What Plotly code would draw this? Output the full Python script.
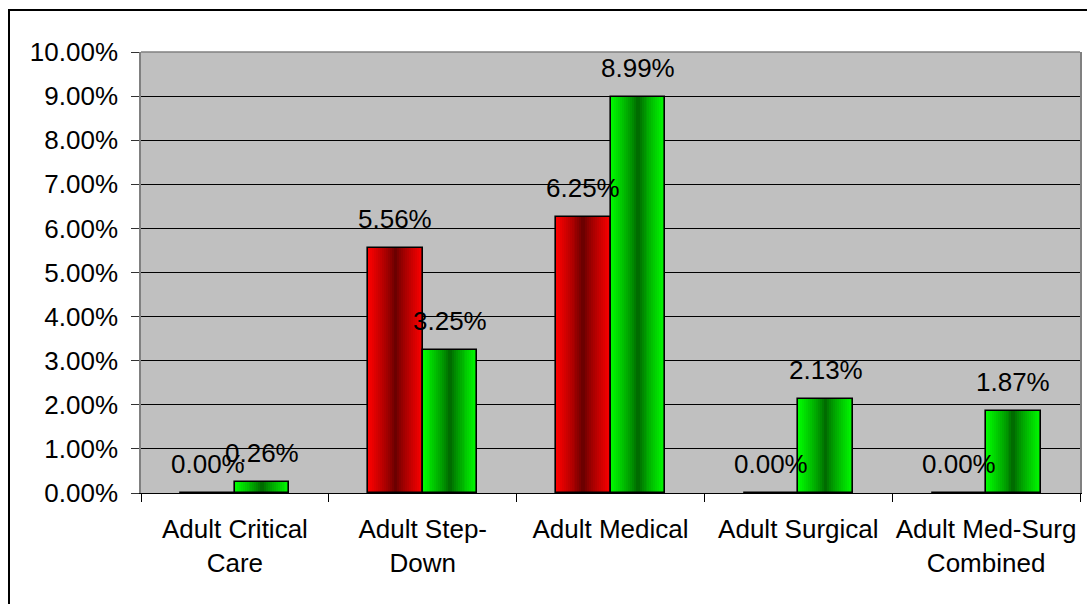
import plotly.graph_objects as go

categories = ["Adult Critical Care", "Adult Step-Down", "Adult Medical",
              "Adult Surgical", "Adult Med-Surg Combined"]
tick_labels = ["Adult Critical<br>Care", "Adult Step-<br>Down", "Adult Medical",
               "Adult Surgical", "Adult Med-Surg<br>Combined"]
red_values = [0.0000, 0.0556, 0.0625, 0.0000, 0.0000]
green_values = [0.0026, 0.0325, 0.0899, 0.0213, 0.0187]
y_ticks = [i / 100 for i in range(0, 11)]

FONT = "Liberation Sans, Arial, sans-serif"
FS = 26
BAR_W = 0.29
N_LAYERS = 14
DARK = 0.38
PLOT_W_PX = 1087 - 141 - 7

fig = go.Figure()


def add_gradient_series(values, center, rgb_fn):
    for i in range(N_LAYERS):
        frac = 1 - i / N_LAYERS
        frac_next = 1 - (i + 1) / N_LAYERS
        t = (frac + frac_next) / 2
        b = DARK + (1 - DARK) * (t ** 0.8)
        w = BAR_W * frac
        fig.add_trace(go.Bar(
            x=categories, y=values, width=w, offset=center - w / 2,
            marker=dict(color=rgb_fn(b), line=dict(width=0)),
            hoverinfo="skip", showlegend=False))
    fig.add_trace(go.Bar(
        x=categories, y=values, width=BAR_W, offset=center - BAR_W / 2,
        marker=dict(color="rgba(0,0,0,0)", line=dict(width=1.6, color="black")),
        hoverinfo="skip", showlegend=False))


add_gradient_series(red_values, -BAR_W / 2, lambda b: f"rgb({round(255*b)},0,0)")
add_gradient_series(green_values, BAR_W / 2, lambda b: f"rgb(0,{round(255*b)},0)")

annotations = []
for vals, sign in ((red_values, -1), (green_values, 1)):
    for c, v in zip(categories, vals):
        annotations.append(dict(
            x=c, y=v, xref="x", yref="y", text=f"{v*100:.2f}%",
            showarrow=False, yanchor="bottom", xanchor="center",
            xshift=sign * BAR_W / 2 * PLOT_W_PX / len(categories), yshift=12,
            font=dict(family=FONT, size=FS, color="black")))

fig.update_layout(
    width=1087, height=604, autosize=False,
    margin=dict(l=141, r=7, t=52, b=111),
    paper_bgcolor="white", plot_bgcolor="#C0C0C0",
    barmode="overlay", bargap=0,
    font=dict(family=FONT, size=FS, color="black"),
    annotations=annotations,
    xaxis=dict(
        type="category", range=[-0.5, 4.5], automargin=False, tickangle=0,
        tickmode="array", tickvals=categories, ticktext=tick_labels,
        tickson="boundaries", ticks="outside", ticklen=8, tickcolor="black",
        showline=True, linecolor="black", linewidth=1,
        showgrid=False, ticklabelstandoff=13,
        tickfont=dict(family=FONT, size=FS, color="black")),
    yaxis=dict(
        range=[0, 0.10], tickmode="array", tickvals=y_ticks, tickformat=".2%",
        automargin=False,
        ticks="outside", ticklen=8, tickcolor="#333333",
        showline=True, linecolor="#808080", linewidth=1.5, mirror=True,
        showgrid=True, gridcolor="black", gridwidth=1, zeroline=False,
        ticklabelstandoff=8,
        tickfont=dict(family=FONT, size=FS, color="black")),
    shapes=[
        dict(type="line", xref="paper", yref="paper", x0=0, x1=1, y0=1, y1=1,
             line=dict(color="#808080", width=1.5)),
        dict(type="rect", xref="paper", yref="paper",
             x0=(9 - 141) / PLOT_W_PX, x1=(1095 - 141) / PLOT_W_PX,
             y0=(493 - 615) / 441, y1=(493 - 10) / 441,
             line=dict(color="black", width=2), fillcolor="rgba(0,0,0,0)"),
    ],
)

fig.write_html("out.html")
